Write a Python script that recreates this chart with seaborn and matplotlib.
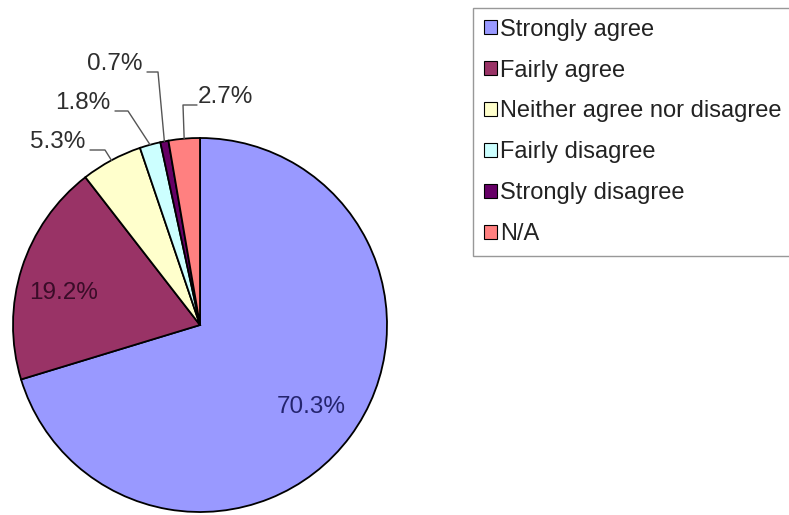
import numpy as np
import matplotlib
matplotlib.use('Agg')
import matplotlib.pyplot as plt
import seaborn as sns
from matplotlib.patches import Patch


categories = ['Strongly agree', 'Fairly agree', 'Neither agree nor disagree',
              'Fairly disagree', 'Strongly disagree', 'N/A']
shares = [70.3, 19.2, 5.3, 1.8, 0.7, 2.7]
colors = ['#9999FF', '#993366', '#FFFFCC', '#CCFFFF', '#660066', '#FF8080']

# slices labelled inside: text colour, distance from centre, angle nudge (deg)
inner_labels = {0: ('#24246e', 0.74, 0.0), 1: ('#3a0c28', 0.75, 4.4)}
# slices labelled outside: elbow and end of the leader line, in pixels
outer_labels = {
    2: ((105, 150), (90, 150)),
    3: ((128, 111), (115, 111)),
    4: ((158, 72), (147, 72)),
    5: ((183, 105), (197, 105)),
}

sns.set_style('white')
plt.rcParams['font.family'] = ['Liberation Sans', 'DejaVu Sans']

W, H = 789, 515
R = 187.0
cx, cy = 200.0, 325.0


def px(x, y):
    """pixel position (from top left) -> pie data units"""
    return (x - cx) / R, (cy - y) / R


fig = plt.figure(figsize=(W / 100, H / 100), dpi=100)
ax = fig.add_axes([0, 0, 1, 1])

wedges, _ = ax.pie(shares, colors=colors, startangle=90, counterclock=False,
                   wedgeprops=dict(edgecolor='black', linewidth=1.3))
ax.set_xlim(-cx / R, (W - cx) / R)
ax.set_ylim(-(H - cy) / R, cy / R)
ax.axis('off')

fs = 17.5
for i, w in enumerate(wedges):
    mid = np.deg2rad((w.theta1 + w.theta2) / 2)
    text = f'{shares[i]:.1f}%'
    if i in inner_labels:
        col, dist, nudge = inner_labels[i]
        a = mid + np.deg2rad(nudge)
        ax.text(dist * np.cos(a), dist * np.sin(a), text, ha='center', va='center',
                fontsize=fs, color=col)
    else:
        elbow, end = outer_labels[i]
        ex, ey = px(*elbow)
        tx, ty = px(*end)
        ax.plot([np.cos(mid), ex, tx], [np.sin(mid), ey, ty], color='#555555', lw=1.0)
        if tx < ex:
            ax.text(tx - 5 / R, ty + 8 / R, text, ha='right', va='center', fontsize=fs, color='#2e2e2e')
        else:
            ax.text(tx + 1 / R, ty + 8 / R, text, ha='left', va='center', fontsize=fs, color='#2e2e2e')

handles = [Patch(facecolor=c, edgecolor='black', linewidth=0.8) for c in colors]
leg = fig.legend(handles, categories, loc='upper left', bbox_to_anchor=(473 / W, 1 - 8 / H),
                 frameon=True, fancybox=False, edgecolor='#7f7f7f', fontsize=17,
                 handlelength=0.55, handleheight=0.55, handletextpad=0.15,
                 labelspacing=0.8, borderpad=0.45, borderaxespad=0)
leg.get_frame().set_linewidth(1.0)
for t in leg.get_texts():
    t.set_color('#222222')

fig.savefig('out.png', dpi=100)
